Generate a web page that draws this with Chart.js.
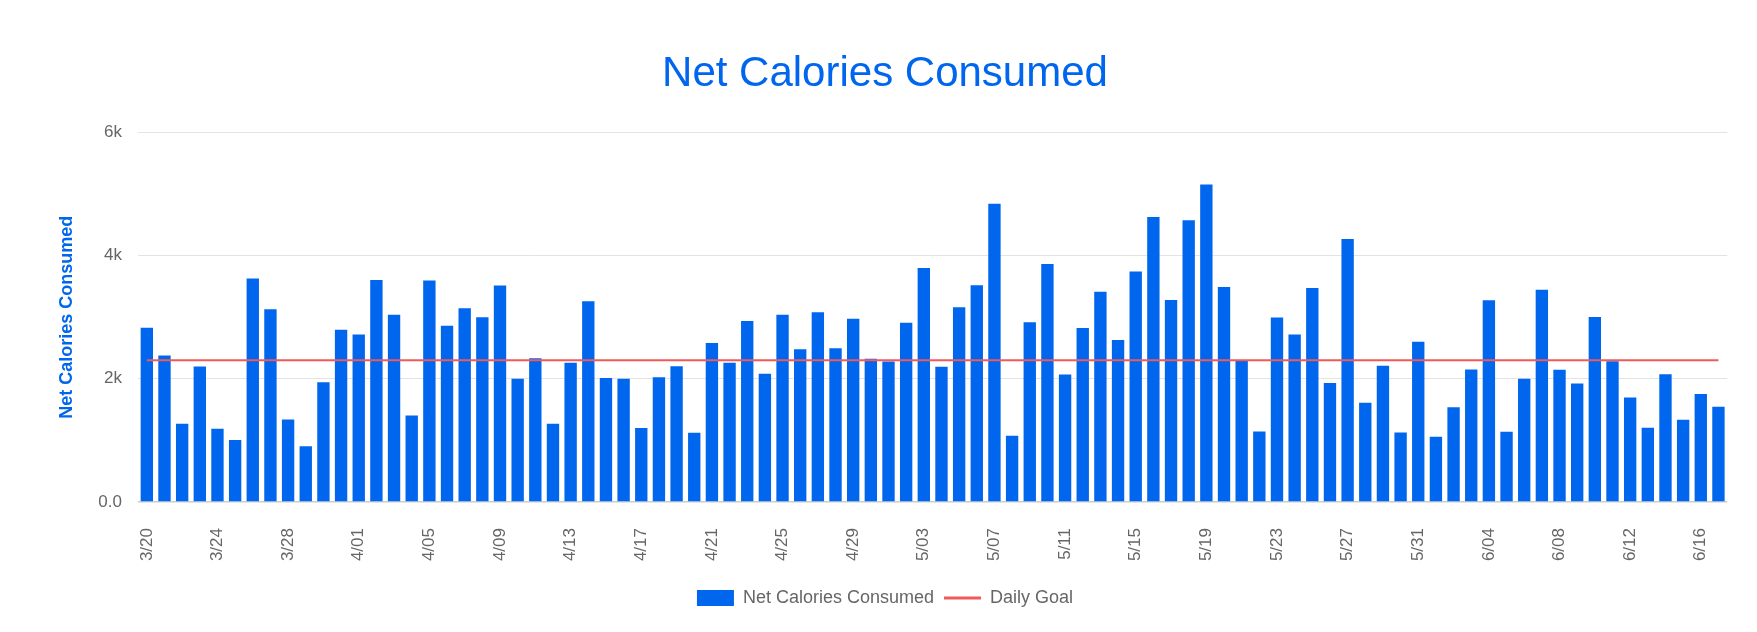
<!DOCTYPE html>
<html>
<head>
<meta charset="utf-8">
<title>Net Calories Consumed</title>
<script src="https://cdn.jsdelivr.net/npm/chart.js@4"></script>
<style>
  body { margin: 0; background: #fff; }
  #wrap { width: 1757px; height: 632px; }
</style>
</head>
<body>
<div id="wrap"><canvas id="calChart" width="1757" height="632"></canvas></div>
<script>
let days = [
    "3/20", "3/21", "3/22", "3/23", "3/24", "3/25", "3/26", "3/27", "3/28", "3/29", "3/30", "3/31",
    "4/01", "4/02", "4/03", "4/04", "4/05", "4/06", "4/07", "4/08", "4/09", "4/10",
    "4/11", "4/12", "4/13", "4/14", "4/15", "4/16", "4/17", "4/18", "4/19", "4/20",
    "4/21", "4/22", "4/23", "4/24", "4/25", "4/26", "4/27", "4/28", "4/29", "4/30",
    "5/01", "5/02", "5/03", "5/04", "5/05", "5/06", "5/07", "5/08", "5/09", "5/10",
    "5/11", "5/12", "5/13", "5/14", "5/15", "5/16", "5/17", "5/18", "5/19", "5/20",
    "5/21", "5/22", "5/23", "5/24", "5/25", "5/26", "5/27", "5/28", "5/29", "5/30", "5/31",
    "6/01", "6/02", "6/03", "6/04", "6/05", "6/06", "6/07", "6/08", "6/09", "6/10",
    "6/11", "6/12", "6/13", "6/14", "6/15", "6/16", "6/17"
];

let netCalories = [
    2830, 2380, 1270, 2200, 1190, 1005, 3630, 3130, 1340, 905, 1945, 2795,
    2720, 3605, 3040, 1405, 3595, 2860, 3145, 3000, 3515, 2000,
    2335, 1270, 2260, 3260, 2015, 2000, 1200, 2025, 2205, 1125,
    2580, 2260, 2940, 2080, 3040, 2480, 3080, 2495, 2975, 2325,
    2280, 2910, 3800, 2195, 3160, 3520, 4840, 1075, 2920, 3865,
    2070, 2825, 3415, 2630, 3740, 4625, 3280, 4575, 5155, 3490,
    2290, 1145, 2995, 2720, 3475, 1930, 4270, 1610, 2210, 1130, 2600,
    1060, 1540, 2150, 3275, 1140, 2000, 3445, 2145, 1925, 3005,
    2285, 1695, 1205, 2075, 1335, 1755, 1545
];

let dailyGoal = 2300;
let yTicks = [0, 2000, 4000, 6000];

let blue = "#0066ee";
let red = "#f05a5a";
let font = "'Liberation Sans', Arial, sans-serif";

// goal line runs from the first day to the last
let goalLine = [
    { x: days[0], y: dailyGoal },
    { x: days[days.length - 1], y: dailyGoal }
];

let ctx = document.getElementById("calChart").getContext("2d");
let calChart = new Chart(ctx, {
    data: {
        labels: days,
        datasets: [{
            type: "bar",
            label: "Net Calories Consumed",
            data: netCalories,
            backgroundColor: blue,
            borderWidth: 0,
            barPercentage: 0.7,
            categoryPercentage: 1.0,
            pointStyle: "rect",
            order: 1
        }, {
            type: "line",
            label: "Daily Goal",
            data: goalLine,
            borderColor: red,
            backgroundColor: red,
            borderWidth: 2,
            pointRadius: 0,
            pointBorderWidth: 3,
            pointStyle: "line",
            order: 0
        }]
    },
    options: {
        responsive: false,
        animation: false,
        layout: {
            padding: { left: 40, right: 27, top: 0, bottom: 15 }
        },
        plugins: {
            title: {
                display: true,
                text: "Net Calories Consumed",
                color: blue,
                font: { family: font, size: 42, weight: "normal" },
                padding: { top: 49, bottom: 33 }
            },
            legend: {
                position: "bottom",
                labels: {
                    usePointStyle: true,
                    pointStyleWidth: 37,
                    boxHeight: 16,
                    color: "#666",
                    padding: 10,
                    font: { family: font, size: 18 },
                    sort: (a, b) => a.datasetIndex - b.datasetIndex
                }
            },
            tooltip: { enabled: false }
        },
        scales: {
            x: {
                grid: { display: false },
                border: { display: false },
                ticks: {
                    autoSkip: false,
                    minRotation: 90,
                    maxRotation: 90,
                    padding: 18,
                    color: "#666",
                    font: { family: font, size: 17 },
                    callback: function (val, index) {
                        return index % 4 === 0 ? days[index] : "";
                    }
                },
                afterFit: function (scale) {
                    scale.height = 77;
                }
            },
            y: {
                min: 0,
                max: 6000,
                border: { display: false },
                grid: {
                    drawTicks: false,
                    color: (c) => c.tick && c.tick.value === 0 ? "#cccccc" : "#e3e3e3",
                    lineWidth: (c) => c.tick && c.tick.value === 0 ? 1.5 : 1
                },
                afterBuildTicks: function (scale) {
                    scale.ticks = yTicks.map(v => ({ value: v }));
                },
                ticks: {
                    padding: 16,
                    color: "#666",
                    font: { family: font, size: 17 },
                    callback: function (v) {
                        return v === 0 ? "0.0" : (v / 1000) + "k";
                    }
                },
                title: {
                    display: true,
                    text: "Net Calories Consumed",
                    color: blue,
                    font: { family: font, size: 18, weight: "bold" },
                    padding: { top: 16, bottom: 0 }
                },
                afterFit: function (scale) {
                    scale.width = 98;
                }
            }
        }
    }
});
</script>
</body>
</html>
